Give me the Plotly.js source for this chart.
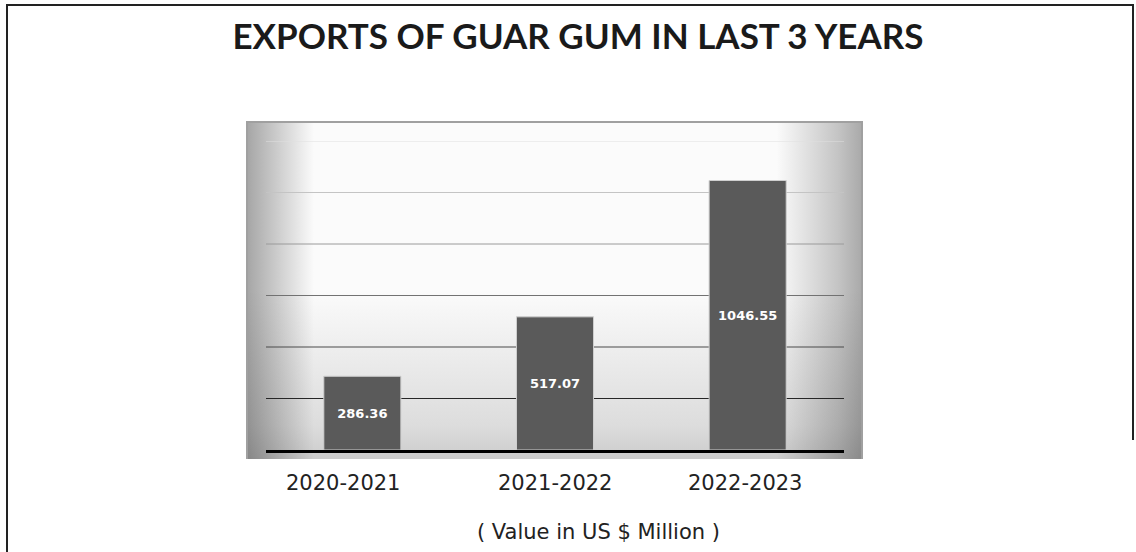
<!DOCTYPE html>
<html>
<head>
<meta charset="utf-8">
<script src="https://cdn.plot.ly/plotly-3.0.1.min.js"></script>
<style>
  html, body { margin: 0; padding: 0; background: #ffffff; }
  #wrap { position: relative; width: 1136px; height: 552px; overflow: hidden; }
  #chart { position: absolute; left: 0; top: 0; width: 1136px; height: 552px; }
  .frame { position: absolute; background: #222222; }
</style>
</head>
<body>
<div id="wrap">
  <div id="chart"></div>
  <div class="frame" style="left:6px; top:4px; width:2px; height:548px;"></div>
  <div class="frame" style="left:6px; top:4px; width:1128px; height:2px;"></div>
  <div class="frame" style="left:1132px; top:4px; width:2px; height:436px;"></div>
</div>
<script>
// ---- data ----
const years = ["2020-2021", "2021-2022", "2022-2023"];
const exportValues = [286.36, 517.07, 1046.55];
const valueLabels = ["286.36", "517.07", "1046.55"];
const gridValues = [200, 400, 600, 800, 1000, 1200];
const chartTitle = "EXPORTS OF GUAR GUM IN LAST 3 YEARS";
const axisTitle = "( Value in US $ Million )";

// ---- styles ----
const gridColors = ["#262626", "#4a4a4a", "#727272", "#9a9a9a", "#c4c4c4", "#e0e0e0"];
const tickLabelShift = [-19, 0, -3];

// ---- panel background (gradient) ----
function panelImage() {
  const w = 617, h = 338;
  const c = document.createElement("canvas");
  c.width = w; c.height = h;
  const ctx = c.getContext("2d");
  const gh = ctx.createLinearGradient(0, 0, w, 0);
  gh.addColorStop(0, "#a4a4a4");
  gh.addColorStop(0.03, "#bcbcbc");
  gh.addColorStop(0.11, "#fbfbfb");
  gh.addColorStop(0.86, "#fbfbfb");
  gh.addColorStop(0.96, "#c4c4c4");
  gh.addColorStop(1, "#a8a8a8");
  ctx.fillStyle = gh;
  ctx.fillRect(0, 0, w, h);
  ctx.globalCompositeOperation = "multiply";
  const gv = ctx.createLinearGradient(0, 0, 0, h);
  gv.addColorStop(0, "#ffffff");
  gv.addColorStop(0.5, "#ffffff");
  gv.addColorStop(0.9, "#e0e0e0");
  gv.addColorStop(1, "#cfcfcf");
  ctx.fillStyle = gv;
  ctx.fillRect(0, 0, w, h);
  ctx.globalCompositeOperation = "source-over";
  ctx.strokeStyle = "#a0a0a0";
  ctx.lineWidth = 2;
  ctx.beginPath();
  ctx.moveTo(1, h); ctx.lineTo(1, 1); ctx.lineTo(w - 1, 1); ctx.lineTo(w - 1, h);
  ctx.stroke();
  return c.toDataURL("image/png");
}

const ML = 266, MR = 292, MT = 141, MB = 102;
const W = 1136, H = 552;
const pw = W - ML - MR, ph = H - MT - MB;
const panel = { x0: 246, x1: 863, y0: 121, y1: 459 };
const labelFont = { family: "DejaVu Sans", size: 21, color: "#222222" };

const traces = [{
  type: "bar",
  x: years,
  y: exportValues,
  text: valueLabels,
  textposition: "inside",
  insidetextanchor: "middle",
  textangle: 0,
  texttemplate: "%{text}",
  textfont: { family: "DejaVu Sans", size: 13, color: "#ffffff", weight: "bold" },
  marker: { color: "#5a5a5a", line: { color: "#cfcfcf", width: 1 } },
  hoverinfo: "skip",
  showlegend: false
}];

const annotations = years.map((yr, i) => ({
  text: yr,
  x: yr, xref: "x",
  y: -33 / ph, yref: "paper",
  xanchor: "center", yanchor: "middle",
  xshift: tickLabelShift[i],
  showarrow: false,
  font: labelFont
}));
annotations.push({
  text: axisTitle,
  x: (598 - ML) / pw, xref: "paper",
  y: -82 / ph, yref: "paper",
  xanchor: "center", yanchor: "middle",
  showarrow: false,
  font: labelFont
});

const shapes = gridValues.map((v, i) => ({
  type: "line",
  xref: "paper", x0: 0, x1: 1,
  yref: "y", y0: v, y1: v,
  line: { color: gridColors[i], width: 1 },
  layer: "below"
}));

const layout = {
  width: W, height: H,
  margin: { l: ML, r: MR, t: MT, b: MB, pad: 0 },
  paper_bgcolor: "rgba(0,0,0,0)",
  plot_bgcolor: "rgba(0,0,0,0)",
  bargap: 0.6,
  title: {
    text: "<b>" + chartTitle + "</b>",
    font: { family: "Lato", size: 35, color: "#1a1a1a" },
    x: 578 / W, xanchor: "center", xref: "container",
    y: 1 - 37 / H, yanchor: "middle", yref: "container"
  },
  xaxis: {
    type: "category",
    range: [-0.5, 2.5],
    showgrid: false, zeroline: false,
    showline: true, linecolor: "#000000", linewidth: 3,
    ticks: "",
    showticklabels: false,
    automargin: false,
    fixedrange: true
  },
  yaxis: {
    range: [0, 1200],
    showgrid: false, zeroline: false, showline: false,
    showticklabels: false, ticks: "",
    fixedrange: true
  },
  annotations: annotations,
  shapes: shapes,
  images: [{
    source: panelImage(),
    xref: "paper", yref: "paper",
    x: (panel.x0 - ML) / pw, y: (H - MB - panel.y0) / ph,
    sizex: (panel.x1 - panel.x0) / pw, sizey: (panel.y1 - panel.y0) / ph,
    xanchor: "left", yanchor: "top",
    sizing: "stretch", layer: "below"
  }]
};

Plotly.newPlot("chart", traces, layout, { displayModeBar: false, staticPlot: true });
</script>
</body>
</html>
